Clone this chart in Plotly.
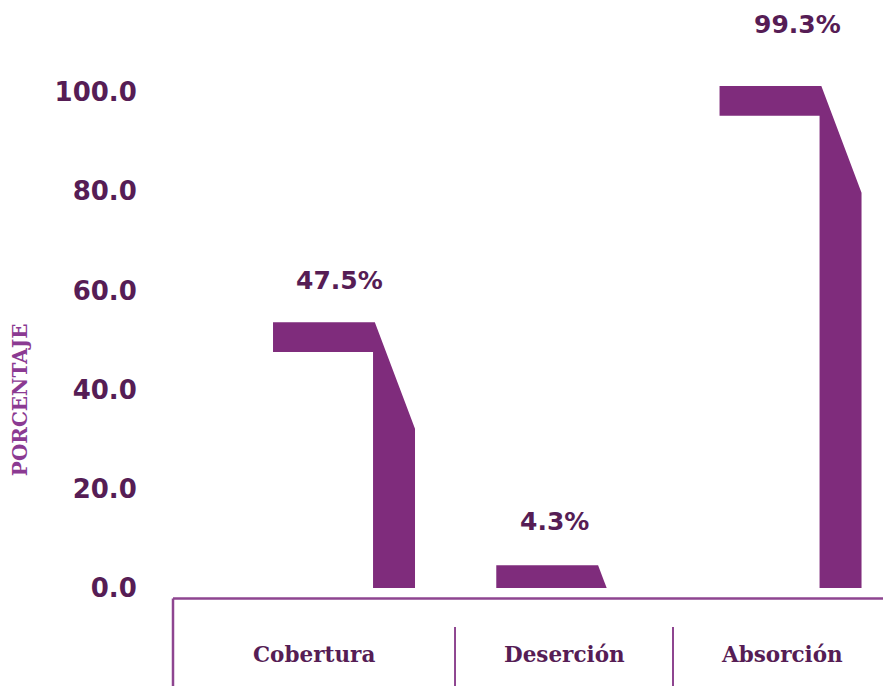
import plotly.graph_objects as go

# ---- data ----
categories = ["Cobertura", "Deserción", "Absorción"]
values = [47.5, 4.3, 99.3]                 # labelled percentages
drawn_tops = [53.6, 4.6, 101.2]            # heights of the drawn caps, read on the axis scale
value_labels = ["47.5%", "4.3%", "99.3%"]
y_ticks = [0, 20, 40, 60, 80, 100]

# ---- style ----
BAR = "#7f2c7c"
DARK = "#561d55"
LINE = "#8e4590"
TITLE = "#8b3a92"
cap_left, cap_right = -0.228, 0.228       # x offsets (category units)
stem_left, stem_right = 0.22, 0.408
cap_h = 6.0                                # cap thickness (axis units)
slant = 21.5                               # drop of the slanted edge (axis units)
label_dx = [16, 7, 27]                     # px
label_lift = [25, 27, 45]                  # px
dividers = [0.3928, 0.6964]                # paper x of section dividers

fig = go.Figure()

for i, top in enumerate(drawn_tops):
    if top - cap_h > 0:
        xs = [i + cap_left, i + cap_right, i + stem_right, i + stem_right,
              i + stem_left, i + stem_left, i + cap_left, i + cap_left]
        ys = [top, top, top - slant, 0, 0, top - cap_h, top - cap_h, top]
    else:
        x0 = i + cap_right + (stem_right - cap_right) * min(top, slant) / slant
        xs = [i + cap_left, i + cap_right, x0, i + cap_left, i + cap_left]
        ys = [top, top, 0, 0, top]
    fig.add_trace(go.Scatter(x=xs, y=ys, mode="lines", fill="toself",
                             fillcolor=BAR, line=dict(width=0, color=BAR),
                             hoverinfo="skip", showlegend=False))
    fig.add_annotation(x=i, y=top, xref="x", yref="y", text=value_labels[i],
                       showarrow=False, xshift=label_dx[i], yshift=label_lift[i],
                       yanchor="bottom",
                       font=dict(family="DejaVu Sans", size=25, color=DARK, weight="bold"))

# category labels centred in their sections
bounds = [0.0] + dividers + [1.0]
for k, name in enumerate(categories):
    cx = (bounds[k] + bounds[k + 1]) / 2
    fig.add_annotation(x=cx, y=-0.1155, xref="paper", yref="paper", text=name,
                       showarrow=False, xanchor="center", yanchor="middle",
                       font=dict(family="DejaVu Serif", size=21.5, color=DARK, weight="bold"))

fig.add_annotation(x=-0.213, y=0.324, xref="paper", yref="paper", text="PORCENTAJE",
                   textangle=-90, showarrow=False, xanchor="center", yanchor="middle",
                   font=dict(family="DejaVu Serif", size=20, color=TITLE, weight="bold"))

# box below the plot
ytop = -0.0181
ybot = -0.25
shapes = [
    dict(type="line", xref="paper", yref="paper", x0=0, x1=1.02, y0=ytop, y1=ytop,
         line=dict(color=LINE, width=2.5)),
    dict(type="line", xref="paper", yref="paper", x0=0, x1=0, y0=ytop, y1=ybot,
         line=dict(color=LINE, width=2.5)),
]
for d in dividers:
    shapes.append(dict(type="line", xref="paper", yref="paper", x0=d, x1=d,
                       y0=-0.0672, y1=ybot, line=dict(color=LINE, width=2)))

fig.update_layout(
    width=891, height=686,
    margin=dict(l=165, r=8, t=0, b=106),
    plot_bgcolor="white", paper_bgcolor="white",
    shapes=shapes,
    xaxis=dict(range=[-0.676, 2.540], visible=False, fixedrange=True),
    yaxis=dict(range=[0, 116.94], tickvals=y_ticks, tickformat=".1f",
               showgrid=False, zeroline=False, showline=False,
               ticks="outside", ticklen=30, tickcolor="rgba(0,0,0,0)",
               tickfont=dict(family="DejaVu Sans", size=26, color=DARK, weight="bold"),
               fixedrange=True),
)

fig.write_html("out.html")
